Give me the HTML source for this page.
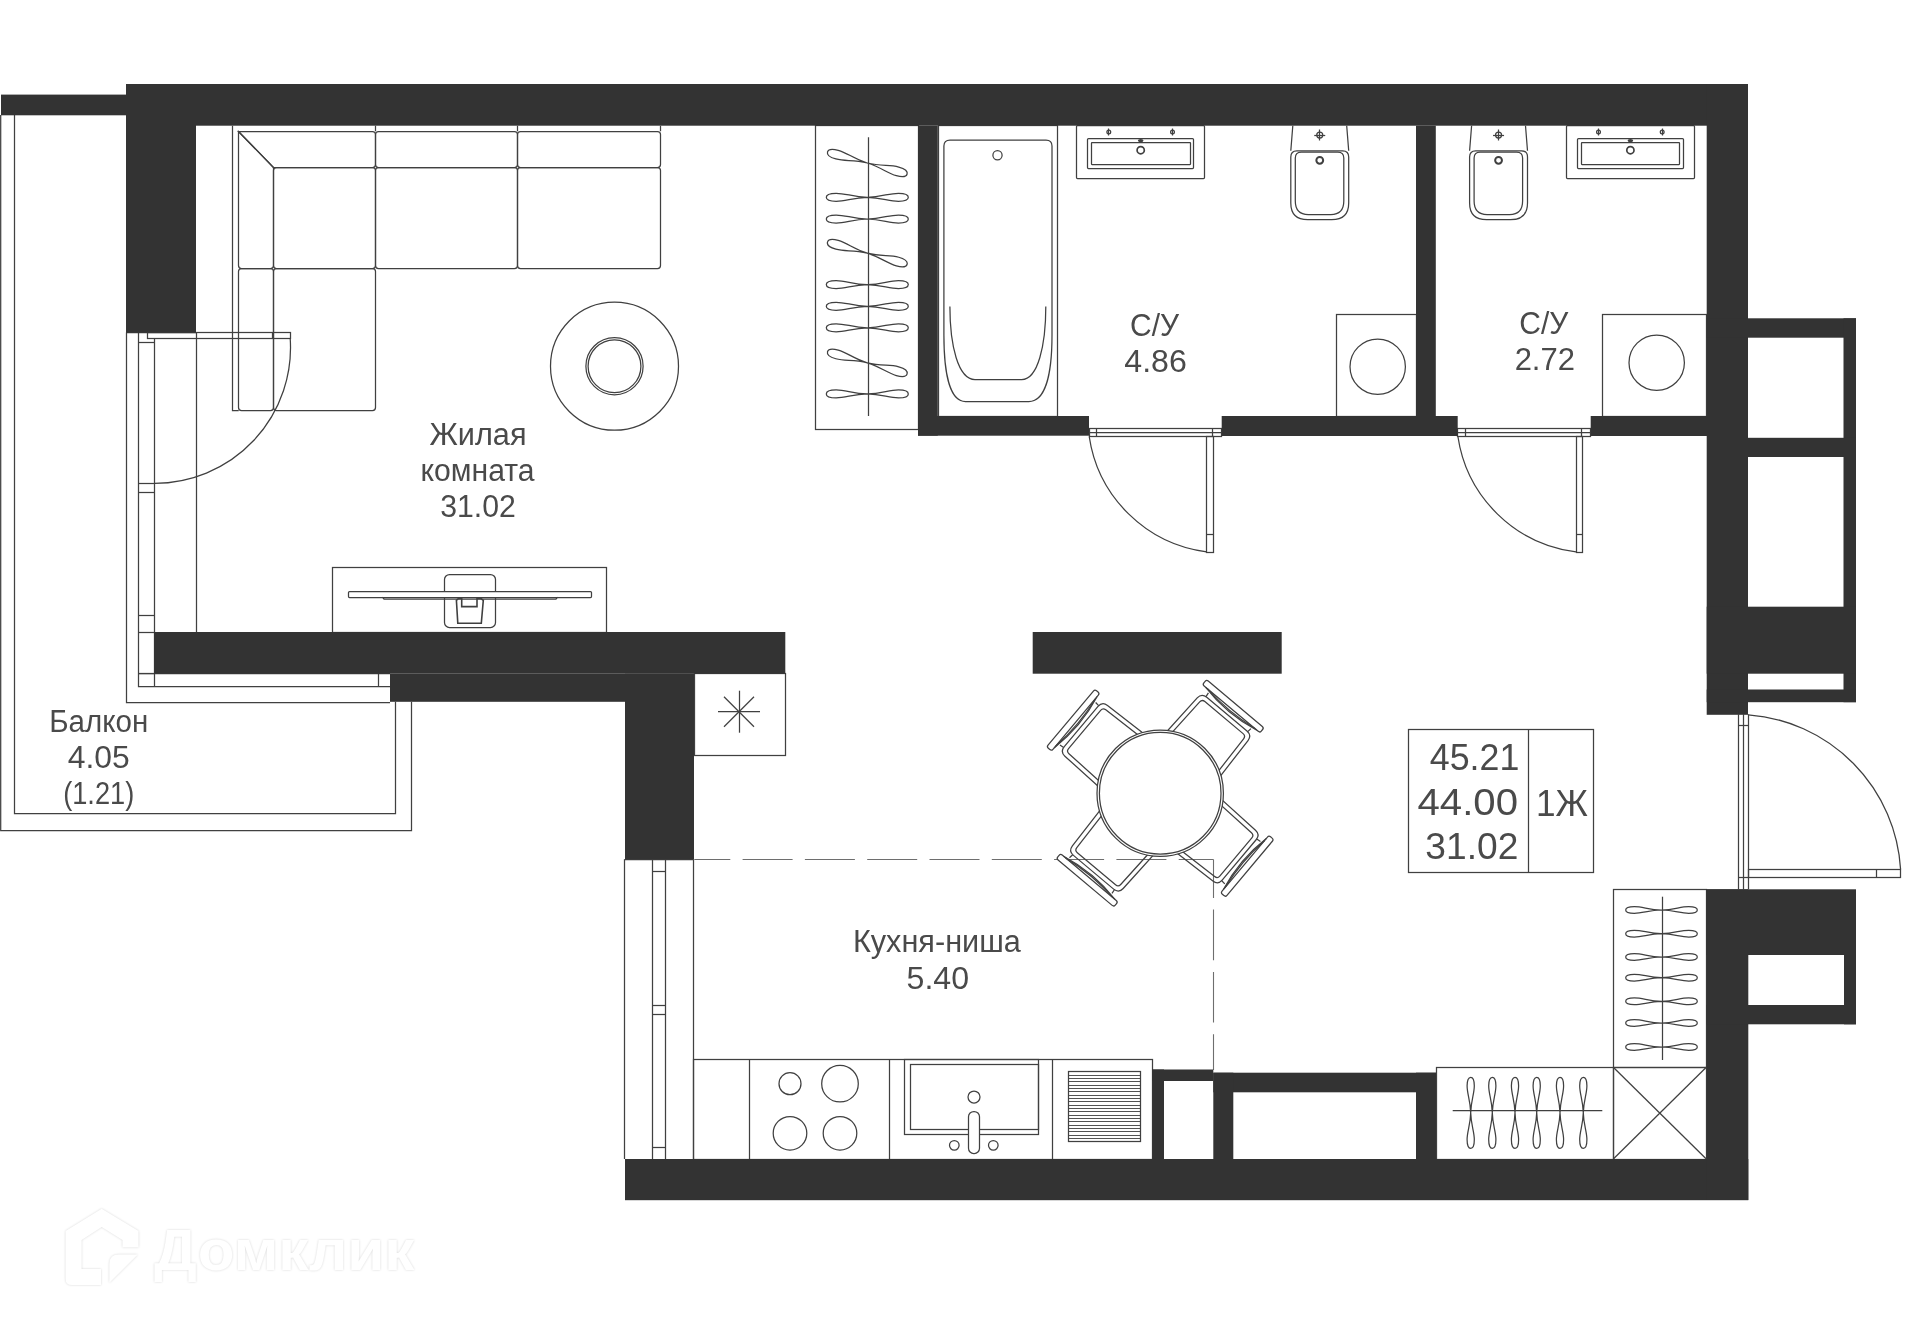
<!DOCTYPE html>
<html lang="ru"><head><meta charset="utf-8"><title>План квартиры</title>
<style>
html,body{margin:0;padding:0;background:#fff;}
body{width:1920px;height:1338px;overflow:hidden;}
svg{display:block;}
</style></head><body>
<svg width="1920" height="1338" viewBox="0 0 1920 1338">
<rect width="1920" height="1338" fill="#ffffff"/>
<g fill="none" stroke="#404040" stroke-width="1.25">
<path d="M0.7,115 V830.5 H411.5 V701.7" fill="none" />
<path d="M14.5,115 V813.5 H395.5 V701.7" fill="none" />
<path d="M126.5,332.5 V702.5 H390" fill="none" />
<path d="M138.5,332.5 V686.5 H390" fill="none" />
<path d="M154.5,338 V686.5" fill="none" />
<line x1="196.50" y1="332.50" x2="196.50" y2="632.00" />
<line x1="138.00" y1="673.50" x2="390.00" y2="673.50" />
<line x1="378.50" y1="673.70" x2="378.50" y2="686.00" />
<line x1="126.00" y1="332.50" x2="196.00" y2="332.50" />
<line x1="138.00" y1="483.50" x2="154.00" y2="483.50" />
<line x1="138.00" y1="492.50" x2="154.00" y2="492.50" />
<line x1="138.00" y1="615.50" x2="154.00" y2="615.50" />
<line x1="138.00" y1="632.50" x2="154.00" y2="632.50" />
<line x1="138.00" y1="673.50" x2="154.00" y2="673.50" />
<line x1="138.00" y1="342.50" x2="154.00" y2="342.50" />
<rect x="147.50" y="332.50" width="143.00" height="6.00" rx="0" fill="none"/>
<line x1="272.50" y1="332.60" x2="272.50" y2="338.20" />
<path d="M290.2,338.2 A135.8,135.8 0 0 1 154.5,483.3" fill="none" />
<path d="M238.7,410.5 H232.5 V125.7 M660.5,125.7 V131.3" fill="none" />
<line x1="375.50" y1="125.70" x2="375.50" y2="131.30" />
<line x1="517.50" y1="125.70" x2="517.50" y2="131.30" />
<path d="M238.5,131.5 H372.5 Q375.5,131.5 375.5,134.5 V164.5 Q375.5,167.5 372.5,167.5 H273.5 Z" fill="none" />
<path d="M238.5,131.5 L273.5,167.5 V265.5 Q273.5,268.5 270.5,268.5 H241.5 Q238.5,268.5 238.5,265.5 Z" fill="none" />
<rect x="375.50" y="131.50" width="142.00" height="36.00" rx="3" fill="none"/>
<rect x="517.50" y="131.50" width="143.00" height="36.00" rx="3" fill="none"/>
<rect x="238.50" y="268.50" width="35.00" height="142.00" rx="3" fill="none"/>
<rect x="273.50" y="167.50" width="102.00" height="101.00" rx="3" fill="none"/>
<rect x="375.50" y="167.50" width="142.00" height="101.00" rx="3" fill="none"/>
<rect x="517.50" y="167.50" width="143.00" height="101.00" rx="3" fill="none"/>
<rect x="273.50" y="268.50" width="102.00" height="142.00" rx="3" fill="none"/>
<circle cx="614.50" cy="366.20" r="64.00" fill="none"/>
<circle cx="614.50" cy="366.20" r="28.60" fill="none"/>
<circle cx="614.50" cy="366.20" r="26.40" fill="none"/>
<rect x="332.50" y="567.50" width="274.00" height="65.00" rx="0" fill="none"/>
<rect x="444.50" y="574.50" width="51.00" height="53.00" rx="5" fill="none"/>
<rect x="348.50" y="591.50" width="243.00" height="6.00" rx="1" fill="#fff"/>
<path d="M382.5,597.2 L384,599 H556 L557.5,597.2" fill="none" />
<path d="M456.4,600.3 L457.8,623.3 H481.3 L483.3,600.3 L481,598.5 H477 V606.6 H461.7 V598.5 H458.5 Z" fill="none" stroke-width="1.6"/>
<rect x="815.50" y="125.50" width="103.00" height="304.00" rx="0" fill="none"/>
<line x1="868.50" y1="137.20" x2="868.50" y2="416.00" />
<path d="M0,0 C14.87,-0.45 21.48,-4.50 31.39,-4.50 C38.00,-4.50 41.30,-2.79 41.30,0 C41.30,2.79 38.00,4.50 31.39,4.50 C21.48,4.50 14.87,0.45 0,0 C-14.87,-0.45 -21.48,-4.50 -31.39,-4.50 C-38.00,-4.50 -41.30,-2.79 -41.30,0 C-41.30,2.79 -38.00,4.50 -31.39,4.50 C-21.48,4.50 -14.87,0.45 0,0 Z" transform="translate(867.30,163.00) rotate(15.5)"/>
<path d="M0,0 C14.76,-0.40 21.32,-4.00 31.16,-4.00 C37.72,-4.00 41.00,-2.48 41.00,0 C41.00,2.48 37.72,4.00 31.16,4.00 C21.32,4.00 14.76,0.40 0,0 C-14.76,-0.40 -21.32,-4.00 -31.16,-4.00 C-37.72,-4.00 -41.00,-2.48 -41.00,0 C-41.00,2.48 -37.72,4.00 -31.16,4.00 C-21.32,4.00 -14.76,0.40 0,0 Z" transform="translate(867.30,197.30) rotate(0)"/>
<path d="M0,0 C14.76,-0.40 21.32,-4.00 31.16,-4.00 C37.72,-4.00 41.00,-2.48 41.00,0 C41.00,2.48 37.72,4.00 31.16,4.00 C21.32,4.00 14.76,0.40 0,0 C-14.76,-0.40 -21.32,-4.00 -31.16,-4.00 C-37.72,-4.00 -41.00,-2.48 -41.00,0 C-41.00,2.48 -37.72,4.00 -31.16,4.00 C-21.32,4.00 -14.76,0.40 0,0 Z" transform="translate(867.30,219.00) rotate(0)"/>
<path d="M0,0 C14.87,-0.45 21.48,-4.50 31.39,-4.50 C38.00,-4.50 41.30,-2.79 41.30,0 C41.30,2.79 38.00,4.50 31.39,4.50 C21.48,4.50 14.87,0.45 0,0 C-14.87,-0.45 -21.48,-4.50 -31.39,-4.50 C-38.00,-4.50 -41.30,-2.79 -41.30,0 C-41.30,2.79 -38.00,4.50 -31.39,4.50 C-21.48,4.50 -14.87,0.45 0,0 Z" transform="translate(867.30,253.20) rotate(15.5)"/>
<path d="M0,0 C14.76,-0.40 21.32,-4.00 31.16,-4.00 C37.72,-4.00 41.00,-2.48 41.00,0 C41.00,2.48 37.72,4.00 31.16,4.00 C21.32,4.00 14.76,0.40 0,0 C-14.76,-0.40 -21.32,-4.00 -31.16,-4.00 C-37.72,-4.00 -41.00,-2.48 -41.00,0 C-41.00,2.48 -37.72,4.00 -31.16,4.00 C-21.32,4.00 -14.76,0.40 0,0 Z" transform="translate(867.30,284.60) rotate(0)"/>
<path d="M0,0 C14.76,-0.40 21.32,-4.00 31.16,-4.00 C37.72,-4.00 41.00,-2.48 41.00,0 C41.00,2.48 37.72,4.00 31.16,4.00 C21.32,4.00 14.76,0.40 0,0 C-14.76,-0.40 -21.32,-4.00 -31.16,-4.00 C-37.72,-4.00 -41.00,-2.48 -41.00,0 C-41.00,2.48 -37.72,4.00 -31.16,4.00 C-21.32,4.00 -14.76,0.40 0,0 Z" transform="translate(867.30,306.30) rotate(0)"/>
<path d="M0,0 C14.76,-0.40 21.32,-4.00 31.16,-4.00 C37.72,-4.00 41.00,-2.48 41.00,0 C41.00,2.48 37.72,4.00 31.16,4.00 C21.32,4.00 14.76,0.40 0,0 C-14.76,-0.40 -21.32,-4.00 -31.16,-4.00 C-37.72,-4.00 -41.00,-2.48 -41.00,0 C-41.00,2.48 -37.72,4.00 -31.16,4.00 C-21.32,4.00 -14.76,0.40 0,0 Z" transform="translate(867.30,327.80) rotate(0)"/>
<path d="M0,0 C14.87,-0.45 21.48,-4.50 31.39,-4.50 C38.00,-4.50 41.30,-2.79 41.30,0 C41.30,2.79 38.00,4.50 31.39,4.50 C21.48,4.50 14.87,0.45 0,0 C-14.87,-0.45 -21.48,-4.50 -31.39,-4.50 C-38.00,-4.50 -41.30,-2.79 -41.30,0 C-41.30,2.79 -38.00,4.50 -31.39,4.50 C-21.48,4.50 -14.87,0.45 0,0 Z" transform="translate(867.30,362.80) rotate(15.5)"/>
<path d="M0,0 C14.76,-0.40 21.32,-4.00 31.16,-4.00 C37.72,-4.00 41.00,-2.48 41.00,0 C41.00,2.48 37.72,4.00 31.16,4.00 C21.32,4.00 14.76,0.40 0,0 C-14.76,-0.40 -21.32,-4.00 -31.16,-4.00 C-37.72,-4.00 -41.00,-2.48 -41.00,0 C-41.00,2.48 -37.72,4.00 -31.16,4.00 C-21.32,4.00 -14.76,0.40 0,0 Z" transform="translate(867.30,393.90) rotate(0)"/>
<rect x="938.50" y="125.50" width="119.00" height="291.00" rx="0" fill="none"/>
<path d="M950,140 H1046 Q1052,140 1052,146 V335 C1052,372 1046,401.5 1028.8,401.5 H965.5 C949.5,401.5 943.9,372 943.9,335 V146 Q943.9,140 950,140 Z" fill="none" />
<path d="M949.9,306.6 C949.9,345 958,379.5 975,379.5 H1021.7 C1038,379.5 1045.8,345 1045.8,306.6" fill="none" />
<circle cx="997.50" cy="155.20" r="4.60" fill="none"/>
<rect x="1076.50" y="125.50" width="128.00" height="53.00" rx="1" fill="none"/>
<rect x="1087.50" y="138.50" width="106.00" height="30.00" rx="1" fill="none"/>
<rect x="1091.50" y="142.50" width="99.00" height="22.00" rx="0.5" fill="none"/>
<circle cx="1108.80" cy="132.00" r="1.90" fill="none"/>
<line x1="1108.50" y1="128.50" x2="1108.50" y2="135.50" />
<circle cx="1172.50" cy="132.00" r="1.90" fill="none"/>
<line x1="1172.50" y1="128.50" x2="1172.50" y2="135.50" />
<circle cx="1140.70" cy="150.20" r="3.60" fill="none" stroke-width="1.7"/>
<ellipse cx="1140.7" cy="140.6" rx="2.2" ry="0.9" fill="#404040"/>
<rect x="1566.50" y="125.50" width="128.00" height="53.00" rx="1" fill="none"/>
<rect x="1577.50" y="138.50" width="106.00" height="30.00" rx="1" fill="none"/>
<rect x="1581.50" y="142.50" width="98.00" height="22.00" rx="0.5" fill="none"/>
<circle cx="1598.50" cy="132.00" r="1.90" fill="none"/>
<line x1="1598.50" y1="128.50" x2="1598.50" y2="135.50" />
<circle cx="1662.20" cy="132.00" r="1.90" fill="none"/>
<line x1="1662.50" y1="128.50" x2="1662.50" y2="135.50" />
<circle cx="1630.40" cy="150.20" r="3.60" fill="none" stroke-width="1.7"/>
<ellipse cx="1630.4" cy="140.6" rx="2.2" ry="0.9" fill="#404040"/>
<path d="M1292.8,125.7 L1290.8,150.8 M1346.7,125.7 L1348.7,150.8" fill="none" />
<path d="M1290.8,157 Q1290.8,150.8 1296.8,150.8 H1342.7 Q1348.7,150.8 1348.7,157 V203 Q1348.7,219.7 1331.7,219.7 H1307.8 Q1290.8,219.7 1290.8,203 Z" fill="none" />
<path d="M1295.3,158 Q1295.3,152 1301.3,152 H1337.8 Q1343.8,152 1343.8,158 V201 Q1343.8,214.5 1330.8,214.5 H1308.3 Q1295.3,214.5 1295.3,201 Z" fill="none" />
<circle cx="1319.75" cy="135.00" r="3.00" fill="none"/>
<line x1="1314.25" y1="135.50" x2="1325.25" y2="135.50" />
<line x1="1319.50" y1="129.50" x2="1319.50" y2="140.50" />
<circle cx="1319.75" cy="160.30" r="3.40" fill="none" stroke-width="2"/>
<path d="M1471.6,125.7 L1469.6,150.8 M1525.5,125.7 L1527.5,150.8" fill="none" />
<path d="M1469.6,157 Q1469.6,150.8 1475.6,150.8 H1521.5 Q1527.5,150.8 1527.5,157 V203 Q1527.5,219.7 1510.5,219.7 H1486.6 Q1469.6,219.7 1469.6,203 Z" fill="none" />
<path d="M1474.1,158 Q1474.1,152 1480.1,152 H1516.6 Q1522.6,152 1522.6,158 V201 Q1522.6,214.5 1509.6,214.5 H1487.1 Q1474.1,214.5 1474.1,201 Z" fill="none" />
<circle cx="1498.55" cy="135.00" r="3.00" fill="none"/>
<line x1="1493.05" y1="135.50" x2="1504.05" y2="135.50" />
<line x1="1498.50" y1="129.50" x2="1498.50" y2="140.50" />
<circle cx="1498.55" cy="160.30" r="3.40" fill="none" stroke-width="2"/>
<rect x="1336.50" y="314.50" width="80.00" height="102.00" rx="0" fill="none"/>
<circle cx="1377.70" cy="366.70" r="27.70" fill="none"/>
<rect x="1602.50" y="314.50" width="104.00" height="102.00" rx="0" fill="none"/>
<circle cx="1656.70" cy="362.70" r="27.70" fill="none"/>
<rect x="1089.50" y="428.50" width="132.00" height="8.00" rx="0" fill="#fff"/>
<line x1="1089.00" y1="432.50" x2="1221.70" y2="432.50" />
<line x1="1096.50" y1="428.50" x2="1096.50" y2="436.50" />
<line x1="1212.50" y1="428.50" x2="1212.50" y2="436.50" />
<rect x="1206.50" y="436.50" width="7.00" height="116.00" rx="0" fill="none"/>
<line x1="1206.70" y1="534.50" x2="1213.20" y2="534.50" />
<path d="M1089.2,436.5 A136.5,136.5 0 0 0 1206.7,551.9" fill="none" />
<rect x="1457.50" y="428.50" width="133.00" height="8.00" rx="0" fill="#fff"/>
<line x1="1457.70" y1="432.50" x2="1590.70" y2="432.50" />
<line x1="1465.50" y1="428.50" x2="1465.50" y2="436.50" />
<line x1="1581.50" y1="428.50" x2="1581.50" y2="436.50" />
<rect x="1576.50" y="436.50" width="6.00" height="116.00" rx="0" fill="none"/>
<line x1="1576.00" y1="534.50" x2="1582.50" y2="534.50" />
<path d="M1457.9,436.5 A136.5,136.5 0 0 0 1576.0,551.9" fill="none" />
<line x1="1738.50" y1="714.30" x2="1738.50" y2="889.30" />
<line x1="1743.50" y1="714.30" x2="1743.50" y2="889.30" />
<line x1="1748.50" y1="714.30" x2="1748.50" y2="889.30" />
<line x1="1738.50" y1="725.50" x2="1748.00" y2="725.50" />
<line x1="1738.50" y1="877.50" x2="1748.00" y2="877.50" />
<rect x="1748.50" y="869.50" width="152.00" height="8.00" rx="0" fill="none"/>
<line x1="1876.50" y1="869.40" x2="1876.50" y2="877.60" />
<path d="M1748.2,714.8 A164.8,164.8 0 0 1 1900.6,869.4" fill="none" />
<rect x="1408.50" y="729.50" width="185.00" height="143.00" rx="0" fill="none"/>
<line x1="1528.50" y1="729.30" x2="1528.50" y2="872.20" />
<rect x="694.50" y="673.50" width="91.00" height="82.00" rx="0" fill="none"/>
<line x1="718.00" y1="711.50" x2="760.00" y2="711.50" />
<line x1="739.50" y1="690.70" x2="739.50" y2="732.70" />
<line x1="724.00" y1="696.70" x2="754.00" y2="726.70" />
<line x1="724.00" y1="726.70" x2="754.00" y2="696.70" />
<line x1="624.50" y1="859.30" x2="624.50" y2="1159.00" />
<line x1="652.50" y1="859.30" x2="652.50" y2="1159.00" />
<line x1="665.50" y1="859.30" x2="665.50" y2="1159.00" />
<line x1="693.50" y1="859.30" x2="693.50" y2="1159.00" />
<line x1="624.50" y1="859.50" x2="693.50" y2="859.50" />
<line x1="652.50" y1="871.50" x2="665.50" y2="871.50" />
<line x1="652.50" y1="1005.50" x2="665.50" y2="1005.50" />
<line x1="652.50" y1="1014.50" x2="665.50" y2="1014.50" />
<line x1="652.50" y1="1147.50" x2="665.50" y2="1147.50" />
<path d="M694.3,859.5 H1213.5" stroke-dasharray="50 12.3" stroke-dashoffset="14" stroke="#6e6e6e" stroke-width="1.1"/>
<path d="M1213.5,859.5 V1070" stroke-dasharray="50.7 11.6" stroke-dashoffset="12.2" stroke="#6e6e6e" stroke-width="1.1"/>
<rect x="693.50" y="1059.50" width="459.00" height="100.00" rx="0" fill="none"/>
<line x1="749.50" y1="1059.30" x2="749.50" y2="1159.00" />
<line x1="889.50" y1="1059.30" x2="889.50" y2="1159.00" />
<line x1="1052.50" y1="1059.30" x2="1052.50" y2="1159.00" />
<circle cx="790.00" cy="1083.70" r="11.00" fill="none"/>
<circle cx="840.00" cy="1083.70" r="18.30" fill="none"/>
<circle cx="790.00" cy="1133.30" r="16.80" fill="none"/>
<circle cx="840.00" cy="1133.30" r="16.80" fill="none"/>
<rect x="904.50" y="1059.50" width="134.00" height="75.00" rx="0" fill="none"/>
<rect x="910.50" y="1064.50" width="128.00" height="65.00" rx="0" fill="none"/>
<circle cx="974.00" cy="1097.00" r="6.00" fill="none"/>
<rect x="968.50" y="1111.50" width="11.00" height="42.00" rx="5.3" fill="#fff"/>
<circle cx="954.30" cy="1145.30" r="4.80" fill="none"/>
<circle cx="993.30" cy="1145.30" r="4.80" fill="none"/>
<rect x="1068.50" y="1071.50" width="72.00" height="70.00" rx="0" fill="none"/>
<line x1="1068.30" y1="1075.50" x2="1140.70" y2="1075.50" stroke-width="0.9"/>
<line x1="1068.30" y1="1078.50" x2="1140.70" y2="1078.50" stroke-width="0.9"/>
<line x1="1068.30" y1="1081.50" x2="1140.70" y2="1081.50" stroke-width="0.9"/>
<line x1="1068.30" y1="1085.50" x2="1140.70" y2="1085.50" stroke-width="0.9"/>
<line x1="1068.30" y1="1088.50" x2="1140.70" y2="1088.50" stroke-width="0.9"/>
<line x1="1068.30" y1="1091.50" x2="1140.70" y2="1091.50" stroke-width="0.9"/>
<line x1="1068.30" y1="1095.50" x2="1140.70" y2="1095.50" stroke-width="0.9"/>
<line x1="1068.30" y1="1098.50" x2="1140.70" y2="1098.50" stroke-width="0.9"/>
<line x1="1068.30" y1="1101.50" x2="1140.70" y2="1101.50" stroke-width="0.9"/>
<line x1="1068.30" y1="1105.50" x2="1140.70" y2="1105.50" stroke-width="0.9"/>
<line x1="1068.30" y1="1108.50" x2="1140.70" y2="1108.50" stroke-width="0.9"/>
<line x1="1068.30" y1="1111.50" x2="1140.70" y2="1111.50" stroke-width="0.9"/>
<line x1="1068.30" y1="1115.50" x2="1140.70" y2="1115.50" stroke-width="0.9"/>
<line x1="1068.30" y1="1118.50" x2="1140.70" y2="1118.50" stroke-width="0.9"/>
<line x1="1068.30" y1="1121.50" x2="1140.70" y2="1121.50" stroke-width="0.9"/>
<line x1="1068.30" y1="1125.50" x2="1140.70" y2="1125.50" stroke-width="0.9"/>
<line x1="1068.30" y1="1128.50" x2="1140.70" y2="1128.50" stroke-width="0.9"/>
<line x1="1068.30" y1="1131.50" x2="1140.70" y2="1131.50" stroke-width="0.9"/>
<line x1="1068.30" y1="1135.50" x2="1140.70" y2="1135.50" stroke-width="0.9"/>
<line x1="1068.30" y1="1138.50" x2="1140.70" y2="1138.50" stroke-width="0.9"/>
<rect x="1436.50" y="1067.50" width="177.00" height="92.00" rx="0" fill="none"/>
<line x1="1452.70" y1="1110.50" x2="1602.30" y2="1110.50" />
<path d="M0,0 C12.78,-0.36 18.46,-3.60 26.98,-3.60 C32.66,-3.60 35.50,-2.23 35.50,0 C35.50,2.23 32.66,3.60 26.98,3.60 C18.46,3.60 12.78,0.36 0,0 C-12.78,-0.36 -18.46,-3.60 -26.98,-3.60 C-32.66,-3.60 -35.50,-2.23 -35.50,0 C-35.50,2.23 -32.66,3.60 -26.98,3.60 C-18.46,3.60 -12.78,0.36 0,0 Z" transform="translate(1470.70,1112.80) rotate(90)"/>
<path d="M0,0 C12.78,-0.36 18.46,-3.60 26.98,-3.60 C32.66,-3.60 35.50,-2.23 35.50,0 C35.50,2.23 32.66,3.60 26.98,3.60 C18.46,3.60 12.78,0.36 0,0 C-12.78,-0.36 -18.46,-3.60 -26.98,-3.60 C-32.66,-3.60 -35.50,-2.23 -35.50,0 C-35.50,2.23 -32.66,3.60 -26.98,3.60 C-18.46,3.60 -12.78,0.36 0,0 Z" transform="translate(1492.30,1112.80) rotate(90)"/>
<path d="M0,0 C12.78,-0.36 18.46,-3.60 26.98,-3.60 C32.66,-3.60 35.50,-2.23 35.50,0 C35.50,2.23 32.66,3.60 26.98,3.60 C18.46,3.60 12.78,0.36 0,0 C-12.78,-0.36 -18.46,-3.60 -26.98,-3.60 C-32.66,-3.60 -35.50,-2.23 -35.50,0 C-35.50,2.23 -32.66,3.60 -26.98,3.60 C-18.46,3.60 -12.78,0.36 0,0 Z" transform="translate(1515.00,1112.80) rotate(90)"/>
<path d="M0,0 C12.78,-0.36 18.46,-3.60 26.98,-3.60 C32.66,-3.60 35.50,-2.23 35.50,0 C35.50,2.23 32.66,3.60 26.98,3.60 C18.46,3.60 12.78,0.36 0,0 C-12.78,-0.36 -18.46,-3.60 -26.98,-3.60 C-32.66,-3.60 -35.50,-2.23 -35.50,0 C-35.50,2.23 -32.66,3.60 -26.98,3.60 C-18.46,3.60 -12.78,0.36 0,0 Z" transform="translate(1536.70,1112.80) rotate(90)"/>
<path d="M0,0 C12.78,-0.36 18.46,-3.60 26.98,-3.60 C32.66,-3.60 35.50,-2.23 35.50,0 C35.50,2.23 32.66,3.60 26.98,3.60 C18.46,3.60 12.78,0.36 0,0 C-12.78,-0.36 -18.46,-3.60 -26.98,-3.60 C-32.66,-3.60 -35.50,-2.23 -35.50,0 C-35.50,2.23 -32.66,3.60 -26.98,3.60 C-18.46,3.60 -12.78,0.36 0,0 Z" transform="translate(1560.00,1112.80) rotate(90)"/>
<path d="M0,0 C12.78,-0.36 18.46,-3.60 26.98,-3.60 C32.66,-3.60 35.50,-2.23 35.50,0 C35.50,2.23 32.66,3.60 26.98,3.60 C18.46,3.60 12.78,0.36 0,0 C-12.78,-0.36 -18.46,-3.60 -26.98,-3.60 C-32.66,-3.60 -35.50,-2.23 -35.50,0 C-35.50,2.23 -32.66,3.60 -26.98,3.60 C-18.46,3.60 -12.78,0.36 0,0 Z" transform="translate(1583.30,1112.80) rotate(90)"/>
<rect x="1613.50" y="1067.50" width="93.00" height="92.00" rx="0" fill="none"/>
<line x1="1613.30" y1="1067.30" x2="1706.30" y2="1159.00" />
<line x1="1706.30" y1="1067.30" x2="1613.30" y2="1159.00" />
<rect x="1613.50" y="889.50" width="93.00" height="178.00" rx="0" fill="none"/>
<line x1="1662.50" y1="896.70" x2="1662.50" y2="1060.00" />
<path d="M0,0 C12.89,-0.34 18.62,-3.40 27.21,-3.40 C32.94,-3.40 35.80,-2.11 35.80,0 C35.80,2.11 32.94,3.40 27.21,3.40 C18.62,3.40 12.89,0.34 0,0 C-12.89,-0.34 -18.62,-3.40 -27.21,-3.40 C-32.94,-3.40 -35.80,-2.11 -35.80,0 C-35.80,2.11 -32.94,3.40 -27.21,3.40 C-18.62,3.40 -12.89,0.34 0,0 Z" transform="translate(1661.50,910.00) rotate(0)"/>
<path d="M0,0 C12.89,-0.34 18.62,-3.40 27.21,-3.40 C32.94,-3.40 35.80,-2.11 35.80,0 C35.80,2.11 32.94,3.40 27.21,3.40 C18.62,3.40 12.89,0.34 0,0 C-12.89,-0.34 -18.62,-3.40 -27.21,-3.40 C-32.94,-3.40 -35.80,-2.11 -35.80,0 C-35.80,2.11 -32.94,3.40 -27.21,3.40 C-18.62,3.40 -12.89,0.34 0,0 Z" transform="translate(1661.50,933.70) rotate(0)"/>
<path d="M0,0 C12.89,-0.34 18.62,-3.40 27.21,-3.40 C32.94,-3.40 35.80,-2.11 35.80,0 C35.80,2.11 32.94,3.40 27.21,3.40 C18.62,3.40 12.89,0.34 0,0 C-12.89,-0.34 -18.62,-3.40 -27.21,-3.40 C-32.94,-3.40 -35.80,-2.11 -35.80,0 C-35.80,2.11 -32.94,3.40 -27.21,3.40 C-18.62,3.40 -12.89,0.34 0,0 Z" transform="translate(1661.50,957.00) rotate(0)"/>
<path d="M0,0 C12.89,-0.34 18.62,-3.40 27.21,-3.40 C32.94,-3.40 35.80,-2.11 35.80,0 C35.80,2.11 32.94,3.40 27.21,3.40 C18.62,3.40 12.89,0.34 0,0 C-12.89,-0.34 -18.62,-3.40 -27.21,-3.40 C-32.94,-3.40 -35.80,-2.11 -35.80,0 C-35.80,2.11 -32.94,3.40 -27.21,3.40 C-18.62,3.40 -12.89,0.34 0,0 Z" transform="translate(1661.50,977.70) rotate(0)"/>
<path d="M0,0 C12.89,-0.34 18.62,-3.40 27.21,-3.40 C32.94,-3.40 35.80,-2.11 35.80,0 C35.80,2.11 32.94,3.40 27.21,3.40 C18.62,3.40 12.89,0.34 0,0 C-12.89,-0.34 -18.62,-3.40 -27.21,-3.40 C-32.94,-3.40 -35.80,-2.11 -35.80,0 C-35.80,2.11 -32.94,3.40 -27.21,3.40 C-18.62,3.40 -12.89,0.34 0,0 Z" transform="translate(1661.50,1001.30) rotate(0)"/>
<path d="M0,0 C12.89,-0.34 18.62,-3.40 27.21,-3.40 C32.94,-3.40 35.80,-2.11 35.80,0 C35.80,2.11 32.94,3.40 27.21,3.40 C18.62,3.40 12.89,0.34 0,0 C-12.89,-0.34 -18.62,-3.40 -27.21,-3.40 C-32.94,-3.40 -35.80,-2.11 -35.80,0 C-35.80,2.11 -32.94,3.40 -27.21,3.40 C-18.62,3.40 -12.89,0.34 0,0 Z" transform="translate(1661.50,1023.00) rotate(0)"/>
<path d="M0,0 C12.89,-0.34 18.62,-3.40 27.21,-3.40 C32.94,-3.40 35.80,-2.11 35.80,0 C35.80,2.11 32.94,3.40 27.21,3.40 C18.62,3.40 12.89,0.34 0,0 C-12.89,-0.34 -18.62,-3.40 -27.21,-3.40 C-32.94,-3.40 -35.80,-2.11 -35.80,0 C-35.80,2.11 -32.94,3.40 -27.21,3.40 C-18.62,3.40 -12.89,0.34 0,0 Z" transform="translate(1661.50,1047.00) rotate(0)"/>
<g transform="translate(1160.2,793.2) rotate(40)">
<path d="M30,-35.4 L96.8,-32.9 Q103.4,-32.6 103.4,-26 L103.4,26.5 Q103.4,33.1 96.8,33.4 L30,35.9"/>
<path d="M30,-30.8 L95.3,-28.4 Q98.9,-28.3 98.9,-24.7 L98.9,25.2 Q98.9,28.8 95.3,28.9 L30,31.3"/>
<rect x="110.4" y="-37.5" width="6.4" height="75" rx="2.2" fill="#fff"/>
<path d="M110.4,-33.5 Q103.2,0 110.4,33.5"/>
<path d="M110.4,-31 Q105.6,0 110.4,31"/>
<path d="M103.4,-27 L107.8,-27.5 M103.4,27.5 L107.8,28"/>
</g>
<g transform="translate(1160.2,793.2) rotate(130)">
<path d="M30,-35.4 L96.8,-32.9 Q103.4,-32.6 103.4,-26 L103.4,26.5 Q103.4,33.1 96.8,33.4 L30,35.9"/>
<path d="M30,-30.8 L95.3,-28.4 Q98.9,-28.3 98.9,-24.7 L98.9,25.2 Q98.9,28.8 95.3,28.9 L30,31.3"/>
<rect x="110.4" y="-37.5" width="6.4" height="75" rx="2.2" fill="#fff"/>
<path d="M110.4,-33.5 Q103.2,0 110.4,33.5"/>
<path d="M110.4,-31 Q105.6,0 110.4,31"/>
<path d="M103.4,-27 L107.8,-27.5 M103.4,27.5 L107.8,28"/>
</g>
<g transform="translate(1160.2,793.2) rotate(220)">
<path d="M30,-35.4 L96.8,-32.9 Q103.4,-32.6 103.4,-26 L103.4,26.5 Q103.4,33.1 96.8,33.4 L30,35.9"/>
<path d="M30,-30.8 L95.3,-28.4 Q98.9,-28.3 98.9,-24.7 L98.9,25.2 Q98.9,28.8 95.3,28.9 L30,31.3"/>
<rect x="110.4" y="-37.5" width="6.4" height="75" rx="2.2" fill="#fff"/>
<path d="M110.4,-33.5 Q103.2,0 110.4,33.5"/>
<path d="M110.4,-31 Q105.6,0 110.4,31"/>
<path d="M103.4,-27 L107.8,-27.5 M103.4,27.5 L107.8,28"/>
</g>
<g transform="translate(1160.2,793.2) rotate(310)">
<path d="M30,-35.4 L96.8,-32.9 Q103.4,-32.6 103.4,-26 L103.4,26.5 Q103.4,33.1 96.8,33.4 L30,35.9"/>
<path d="M30,-30.8 L95.3,-28.4 Q98.9,-28.3 98.9,-24.7 L98.9,25.2 Q98.9,28.8 95.3,28.9 L30,31.3"/>
<rect x="110.4" y="-37.5" width="6.4" height="75" rx="2.2" fill="#fff"/>
<path d="M110.4,-33.5 Q103.2,0 110.4,33.5"/>
<path d="M110.4,-31 Q105.6,0 110.4,31"/>
<path d="M103.4,-27 L107.8,-27.5 M103.4,27.5 L107.8,28"/>
</g>
<circle cx="1160.20" cy="793.20" r="63.20" fill="#fff"/>
<circle cx="1160.20" cy="793.20" r="60.80" fill="none"/>
</g>
<g fill="#333333">
<rect x="1.00" y="94.60" width="126.00" height="20.70" fill="#333333" />
<rect x="126.00" y="84.00" width="1622.00" height="41.70" fill="#333333" />
<rect x="126.00" y="84.00" width="70.00" height="248.60" fill="#333333" />
<rect x="1706.70" y="84.00" width="41.30" height="630.80" fill="#333333" />
<rect x="918.00" y="125.70" width="19.80" height="310.00" fill="#333333" />
<rect x="918.00" y="416.00" width="171.00" height="19.70" fill="#333333" />
<rect x="1221.70" y="416.00" width="236.00" height="20.00" fill="#333333" />
<rect x="1590.70" y="416.00" width="157.30" height="20.00" fill="#333333" />
<rect x="1416.00" y="125.70" width="19.80" height="290.30" fill="#333333" />
<rect x="1706.70" y="318.30" width="149.30" height="19.40" fill="#333333" />
<rect x="1843.50" y="318.30" width="12.50" height="383.90" fill="#333333" />
<rect x="1748.00" y="437.80" width="108.00" height="19.20" fill="#333333" />
<rect x="1706.70" y="606.70" width="149.30" height="67.00" fill="#333333" />
<rect x="1706.70" y="689.50" width="149.30" height="12.70" fill="#333333" />
<rect x="154.00" y="632.00" width="631.30" height="41.70" fill="#333333" />
<rect x="390.00" y="673.70" width="304.00" height="28.10" fill="#333333" />
<rect x="625.00" y="673.70" width="69.00" height="185.60" fill="#333333" />
<rect x="1032.70" y="632.00" width="249.00" height="41.70" fill="#333333" />
<rect x="625.00" y="1159.00" width="1123.30" height="41.20" fill="#333333" />
<rect x="1706.50" y="889.30" width="41.80" height="310.70" fill="#333333" />
<rect x="1706.50" y="889.30" width="149.50" height="65.70" fill="#333333" />
<rect x="1844.00" y="955.00" width="12.00" height="69.30" fill="#333333" />
<rect x="1706.50" y="1005.00" width="149.50" height="19.30" fill="#333333" />
<rect x="1152.30" y="1069.50" width="61.00" height="11.50" fill="#333333" />
<rect x="1152.30" y="1069.50" width="11.70" height="89.50" fill="#333333" />
<rect x="1213.30" y="1072.70" width="222.70" height="19.60" fill="#333333" />
<rect x="1213.30" y="1072.70" width="20.00" height="86.30" fill="#333333" />
<rect x="1416.00" y="1072.70" width="20.00" height="86.30" fill="#333333" />
</g>
<g fill="#4a4a4a" font-family="'Liberation Sans', sans-serif" style="opacity:0.995">
<text x="478.00" y="445.00" font-size="31" text-anchor="middle" textLength="97" lengthAdjust="spacingAndGlyphs" >Жилая</text>
<text x="477.50" y="480.50" font-size="31" text-anchor="middle" textLength="114" lengthAdjust="spacingAndGlyphs" >комната</text>
<text x="478.00" y="516.80" font-size="31" text-anchor="middle" textLength="75.6" lengthAdjust="spacingAndGlyphs" >31.02</text>
<text x="98.70" y="732.00" font-size="31" text-anchor="middle" textLength="99" lengthAdjust="spacingAndGlyphs" >Балкон</text>
<text x="98.70" y="767.70" font-size="31" text-anchor="middle" textLength="62" lengthAdjust="spacingAndGlyphs" >4.05</text>
<text x="98.70" y="804.30" font-size="31" text-anchor="middle" textLength="71" lengthAdjust="spacingAndGlyphs" >(1.21)</text>
<text x="1154.50" y="336.30" font-size="31" text-anchor="middle" textLength="49" lengthAdjust="spacingAndGlyphs" >С/У</text>
<text x="1155.60" y="372.10" font-size="31" text-anchor="middle" textLength="62.5" lengthAdjust="spacingAndGlyphs" >4.86</text>
<text x="1543.80" y="334.40" font-size="31" text-anchor="middle" textLength="49" lengthAdjust="spacingAndGlyphs" >С/У</text>
<text x="1544.80" y="370.00" font-size="31" text-anchor="middle" textLength="60.3" lengthAdjust="spacingAndGlyphs" >2.72</text>
<text x="936.90" y="951.70" font-size="31" text-anchor="middle" textLength="168" lengthAdjust="spacingAndGlyphs" >Кухня-ниша</text>
<text x="937.80" y="988.50" font-size="31" text-anchor="middle" textLength="62.5" lengthAdjust="spacingAndGlyphs" >5.40</text>
<text x="1519.30" y="770.20" font-size="37" text-anchor="end" textLength="89.5" lengthAdjust="spacingAndGlyphs" >45.21</text>
<text x="1518.00" y="815.00" font-size="37" text-anchor="end" textLength="100.5" lengthAdjust="spacingAndGlyphs" >44.00</text>
<text x="1518.30" y="859.40" font-size="37" text-anchor="end" textLength="93" lengthAdjust="spacingAndGlyphs" >31.02</text>
<text x="1562.00" y="816.00" font-size="37" text-anchor="middle" textLength="52" lengthAdjust="spacingAndGlyphs" >1Ж</text>
</g>
<g fill="#ffffff" style="filter:drop-shadow(0 0 1.3px rgba(0,0,0,0.16))">
<path d="M101.7,1208.7 L138.5,1231 V1247.3 H122.5 V1240 L101.7,1227 L81.6,1240 V1269 H101 V1285 H72 Q65.6,1285 65.6,1279 V1231 Z"/>
<path d="M109.4,1282.8 V1264 Q109.4,1254.6 119,1254.6 H137.8 Z"/>
<text x="154" y="1270" font-size="58" font-weight="bold" font-family="'Liberation Sans', sans-serif" textLength="260.5" lengthAdjust="spacingAndGlyphs">Домклик</text>
</g>
</svg>
</body></html>
